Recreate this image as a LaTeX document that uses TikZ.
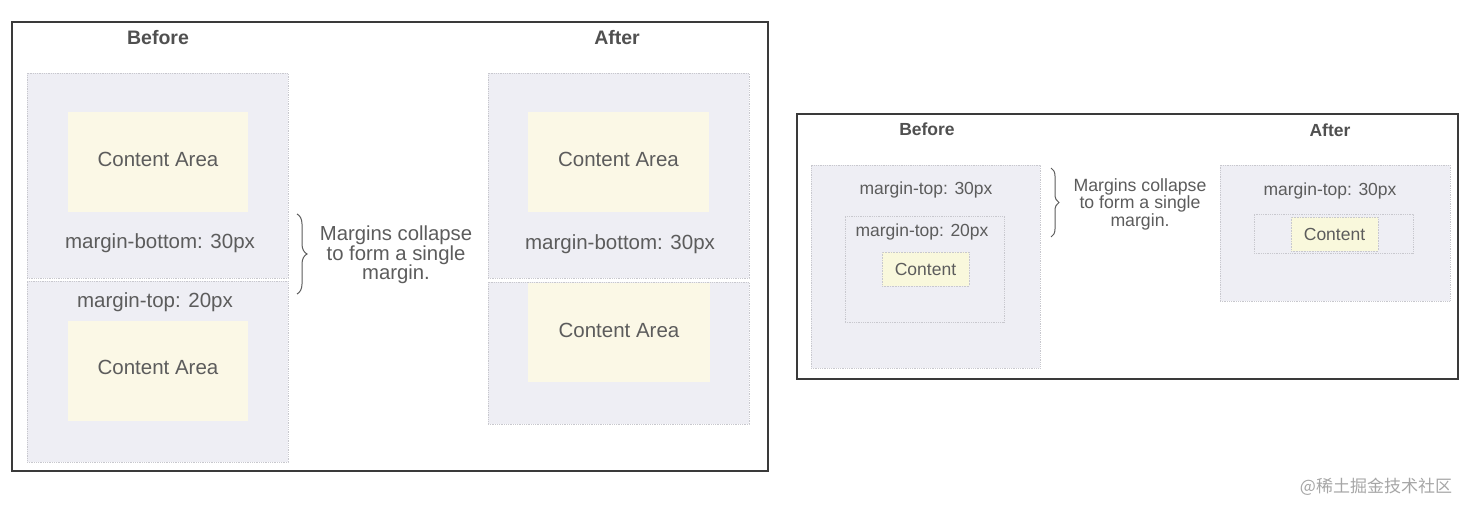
\documentclass[tikz,border=0pt]{standalone}
\usepackage{fontspec}
\setmainfont{Liberation Sans}
\newfontfamily\cjk{Noto Sans CJK SC}
\usetikzlibrary{decorations.pathreplacing}
\definecolor{txt}{HTML}{5C5C5C}
\definecolor{ttl}{HTML}{505050}
\definecolor{boxfill}{HTML}{EEEEF4}
\definecolor{boxline}{HTML}{C8C8CE}
\definecolor{cfill}{HTML}{FBF8E6}
\definecolor{sfill}{HTML}{F9F8DC}
\definecolor{frameline}{HTML}{3A3A3A}
\tikzset{
  frame/.style={draw=frameline, line width=1.2pt, fill=white, inner sep=0},
  outerbox/.style={draw=boxline, densely dotted, line width=0.8pt, fill=boxfill, inner sep=0},
  innerbox/.style={draw=boxline, densely dotted, line width=0.8pt, fill=boxfill, inner sep=0},
  carea/.style={fill=cfill, inner sep=0, text=txt, text depth=6pt, font=\fontsize{20.5}{24}\selectfont},
  scont/.style={fill=sfill, draw=boxline, densely dotted, line width=0.6pt, inner sep=0, text=txt, font=\fontsize{17.5}{20}\selectfont},
  lbl/.style={inner sep=0, text=txt, font=\fontsize{20.5}{24}\selectfont},
  slbl/.style={inner sep=0, text=txt, font=\fontsize{17.5}{20}\selectfont},
  ttlL/.style={inner sep=0, text=ttl, font=\bfseries\fontsize{19.5}{22}\selectfont},
  ttlS/.style={inner sep=0, text=ttl, font=\bfseries\fontsize{17.5}{20}\selectfont},
  note/.style={inner sep=0, text=txt, align=center, font=\fontsize{20.3}{19.5}\selectfont},
  snote/.style={inner sep=0, text=txt, align=center, font=\fontsize{17.7}{17.5}\selectfont},
  bracedeco/.style={draw=txt, line width=1pt, decorate, decoration={brace, amplitude=#1}},
}
\begin{document}
\begin{tikzpicture}[x=1pt,y=-1pt]
\useasboundingbox (0,0) rectangle (1473,513);
% ---------- left panel ----------
\node[frame, minimum width=756, minimum height=449] (F1) at (390,246.5) {};
\node[ttlL] (t1) at (158,38) {Before};
\node[ttlL] (t2) at (617,38) {After};
\node[outerbox, minimum width=261, minimum height=205] (BA) at (157.5,175.5) {};
\node[outerbox, minimum width=261, minimum height=181] (BB) at (157.5,371.5) {};
\node[carea, minimum width=180, minimum height=100] (CA1) at (158,162) {Content Area};
\node[carea, text depth=8pt, minimum width=180, minimum height=100] (CA2) at (158,371) {Content Area};
\node[lbl] (mb1) at (160,243) {margin-bottom: 30px};
\node[lbl] (mt1) at (155,302) {margin-top: 20px};
\node[outerbox, minimum width=261, minimum height=205] (AA) at (618.5,175.5) {};
\node[outerbox, minimum width=261, minimum height=142] (AB) at (618.5,353) {};
\node[carea, minimum width=181, minimum height=100] (CA3) at (618.5,162) {Content Area};
\node[carea, text depth=5pt, minimum width=182, minimum height=99] (CA4) at (619,332.5) {Content Area};
\node[lbl] (mb2) at (620,244) {margin-bottom: 30px};
\coordinate (br1a) at (297,214);
\coordinate (br1b) at (297,294);
\draw[bracedeco=10pt] (br1a) -- (br1b);
\node[note] (n1) at (396,255) {Margins collapse\\to form a single\\margin.};
% ---------- right panel ----------
\node[frame, minimum width=661, minimum height=265] (F2) at (1127.5,246.5) {};
\node[ttlS] (t3) at (927,129) {Before};
\node[ttlS] (t4) at (1330,130) {After};
\node[outerbox, minimum width=229, minimum height=203] (SB) at (925.5,266.5) {};
\node[innerbox, minimum width=159, minimum height=106] (SBi) at (924.5,269) {};
\node[scont, minimum width=87, minimum height=34] (SBc) at (925.5,269) {Content};
\node[slbl] (smt1) at (926,190) {margin-top: 30px};
\node[slbl] (smt2) at (922,232) {margin-top: 20px};
\coordinate (br2a) at (1051,168);
\coordinate (br2b) at (1051,237);
\draw[bracedeco=8pt] (br2a) -- (br2b);
\node[snote] (n2) at (1140,204) {Margins collapse\\to form a single\\margin.};
\node[outerbox, minimum width=230, minimum height=136] (SA) at (1335,233) {};
\node[innerbox, minimum width=159, minimum height=39] (SAi) at (1333.5,233.5) {};
\node[scont, minimum width=87, minimum height=34] (SAc) at (1334.5,234) {Content};
\node[slbl] (smt3) at (1330,191) {margin-top: 30px};
% watermark
\node[inner sep=0, text=black!35, font=\cjk\fontsize{17}{20}\selectfont] (wm) at (1376,487) {@稀土掘金技术社区};
\end{tikzpicture}
\end{document}
